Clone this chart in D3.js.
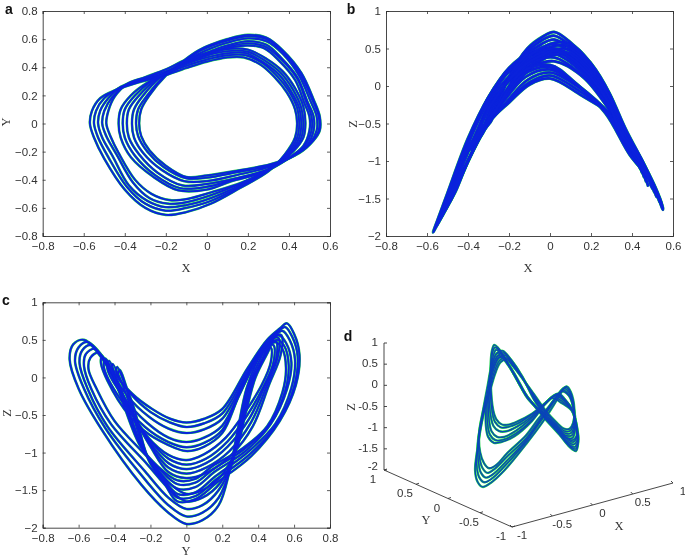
<!DOCTYPE html>
<html>
<head>
<meta charset="utf-8">
<script src="https://cdn.jsdelivr.net/npm/d3@7"></script>
<style>
  html, body { margin: 0; padding: 0; background: #fff; }
  svg { display: block; filter: blur(0.35px); }
  text { font-family: "Liberation Sans", sans-serif; font-size: 11.5px; fill: #333; }
  .letter { font-weight: bold; font-size: 14px; fill: #111; }
  .name { font-family: "Liberation Serif", serif; font-size: 12.5px; fill: #333; }
</style>
</head>
<body>
<svg id="canvas" width="685" height="557"></svg>
<script>
// one attractor trajectory read as closed loops, the four panels are projections of it
let x1a = [-.57,-.56,-.52,-.44,-.34,-.22,-.10,0,.10,.18,.26,.33,.39,.43,.44,.43,.38,.30,.16,.02,-.10,-.20,-.30,-.40,-.50,-.55]
let y1a = [0,.09,.18,.24,.29,.335,.395,.44,.47,.47,.42,.33,.22,.10,0,-.10,-.22,-.34,-.46,-.57,-.63,-.65,-.60,-.47,-.25,-.10]
let z1a = [-1.95,-1.90,-1.70,-1.25,-.65,-.15,.22,.40,.40,.20,-.10,-.45,-.80,-1.02,-1.10,-1.03,-.78,-.35,.22,.50,.44,.24,-.15,-.70,-1.43,-1.80]

let x1b = [-.55,-.54,-.50,-.43,-.33,-.22,-.10,0,.10,.19,.27,.34,.40,.44,.45,.44,.39,.30,.16,.02,-.10,-.20,-.30,-.39,-.48,-.53]
let y1b = [0,.09,.18,.25,.30,.345,.41,.455,.485,.485,.43,.34,.23,.11,0,-.10,-.215,-.33,-.45,-.55,-.60,-.62,-.57,-.45,-.24,-.10]
let z1b = [-1.85,-1.80,-1.60,-1.18,-.62,-.13,.24,.43,.43,.20,-.12,-.50,-.85,-1.08,-1.16,-1.08,-.80,-.35,.20,.47,.40,.22,-.15,-.68,-1.33,-1.70]

let x1c = [-.53,-.52,-.48,-.42,-.32,-.21,-.10,0,.10,.19,.27,.35,.41,.45,.46,.45,.40,.30,.16,.02,-.10,-.20,-.29,-.38,-.46,-.51]
let y1c = [0,.09,.18,.26,.31,.355,.425,.47,.50,.50,.44,.35,.23,.11,0,-.10,-.21,-.325,-.44,-.53,-.58,-.595,-.55,-.44,-.23,-.10]
let z1c = [-1.75,-1.70,-1.50,-1.10,-.58,-.10,.26,.47,.48,.25,-.10,-.55,-.92,-1.14,-1.22,-1.14,-.84,-.36,.17,.43,.36,.19,-.15,-.65,-1.25,-1.60]

let x1d = [-.51,-.50,-.46,-.40,-.31,-.20,-.10,0,.10,.20,.28,.36,.42,.46,.47,.46,.41,.31,.16,.02,-.10,-.19,-.28,-.36,-.44,-.49]
let y1d = [0,.09,.19,.27,.32,.37,.44,.485,.515,.51,.45,.36,.24,.11,0,-.10,-.205,-.32,-.43,-.51,-.56,-.57,-.53,-.42,-.22,-.09]
let z1d = [-1.65,-1.60,-1.40,-1.00,-.52,-.05,.30,.52,.52,.28,-.10,-.60,-.98,-1.20,-1.28,-1.20,-.88,-.40,.13,.38,.31,.15,-.15,-.62,-1.15,-1.50]

let x1e = [-.49,-.48,-.45,-.39,-.30,-.20,-.10,0,.10,.20,.29,.37,.43,.47,.48,.47,.42,.32,.17,.02,-.09,-.18,-.27,-.35,-.43,-.47]
let y1e = [0,.09,.19,.28,.33,.385,.455,.50,.53,.525,.46,.37,.25,.12,0,-.10,-.20,-.315,-.42,-.49,-.535,-.545,-.50,-.40,-.21,-.09]
let z1e = [-1.55,-1.50,-1.32,-.95,-.48,0,.34,.56,.56,.30,-.10,-.65,-1.03,-1.26,-1.34,-1.26,-.92,-.42,.10,.33,.26,.11,-.15,-.58,-1.08,-1.42]

let x2a = [-.33,-.32,-.28,-.20,-.11,-.04,.02,.10,.20,.29,.37,.46,.52,.55,.55,.52,.45,.31,.15,0,-.10,-.20,-.28,-.32]
let y2a = [0,.10,.20,.34,.45,.52,.56,.60,.63,.61,.52,.36,.17,.05,-.05,-.12,-.21,-.29,-.335,-.37,-.38,-.30,-.19,-.09]
let z2a = [-.60,-.55,-.42,.12,.50,.65,.72,.58,.30,-.10,-.58,-1.05,-1.40,-1.62,-1.65,-1.42,-1.10,-.42,-.12,.10,.02,-.22,-.42,-.55]

let x2b = [-.345,-.335,-.29,-.21,-.11,-.04,.02,.10,.20,.29,.37,.455,.515,.545,.545,.515,.44,.31,.15,0,-.10,-.21,-.29,-.335]
let y2b = [0,.10,.20,.335,.44,.51,.55,.59,.62,.60,.51,.35,.165,.05,-.05,-.125,-.215,-.30,-.345,-.385,-.39,-.31,-.20,-.09]
let z2b = [-.66,-.61,-.48,.06,.46,.61,.67,.54,.28,-.12,-.60,-1.03,-1.36,-1.58,-1.60,-1.38,-1.06,-.42,-.08,.14,.05,-.22,-.46,-.60]

let x2c = [-.365,-.355,-.31,-.23,-.12,-.04,.02,.10,.20,.29,.37,.45,.505,.535,.535,.505,.43,.30,.15,0,-.11,-.22,-.31,-.355]
let y2c = [0,.10,.20,.325,.43,.495,.535,.575,.605,.585,.495,.34,.16,.05,-.05,-.135,-.225,-.31,-.365,-.41,-.41,-.33,-.21,-.10]
let z2c = [-.74,-.69,-.55,-.02,.40,.56,.62,.50,.24,-.14,-.62,-1.00,-1.32,-1.53,-1.55,-1.32,-1.02,-.40,-.04,.18,.08,-.24,-.52,-.68]

let x2d = [-.39,-.38,-.33,-.25,-.13,-.05,.02,.10,.20,.29,.36,.44,.49,.52,.52,.49,.41,.29,.14,0,-.12,-.24,-.33,-.38]
let y2d = [0,.10,.20,.31,.41,.475,.515,.555,.585,.56,.47,.33,.155,.05,-.05,-.15,-.235,-.33,-.39,-.43,-.44,-.35,-.22,-.10]
let z2d = [-.86,-.80,-.64,-.12,.32,.50,.56,.46,.20,-.16,-.62,-.98,-1.26,-1.46,-1.48,-1.26,-.98,-.38,0,.22,.12,-.26,-.60,-.80]

let x2e = [-.41,-.40,-.35,-.27,-.14,-.05,.02,.10,.20,.28,.36,.44,.485,.51,.51,.48,.40,.28,.13,0,-.13,-.25,-.35,-.40]
let y2e = [0,.10,.20,.30,.40,.465,.505,.545,.57,.55,.46,.32,.15,.05,-.05,-.15,-.245,-.34,-.40,-.45,-.46,-.37,-.23,-.10]
let z2e = [-.93,-.87,-.70,-.20,.26,.44,.50,.42,.16,-.18,-.64,-.96,-1.22,-1.40,-1.42,-1.22,-.95,-.37,.02,.25,.15,-.28,-.66,-.86]

let x2f = [-.43,-.42,-.37,-.29,-.15,-.05,.02,.10,.20,.28,.35,.43,.475,.50,.50,.47,.39,.27,.12,0,-.14,-.26,-.37,-.42]
let y2f = [0,.10,.20,.29,.39,.455,.495,.535,.555,.535,.45,.31,.145,.05,-.05,-.16,-.255,-.35,-.41,-.47,-.475,-.38,-.24,-.10]
let z2f = [-.98,-.92,-.74,-.26,.22,.40,.47,.38,.12,-.20,-.65,-.95,-1.18,-1.35,-1.37,-1.18,-.92,-.36,.05,.28,.18,-.30,-.70,-.90]

let loops = [
    [x1a, y1a, z1a], [x1b, y1b, z1b], [x1c, y1c, z1c], [x1d, y1d, z1d], [x1e, y1e, z1e],
    [x2a, y2a, z2a], [x2b, y2b, z2b], [x2c, y2c, z2c], [x2d, y2d, z2d], [x2e, y2e, z2e], [x2f, y2f, z2f]
]

let ticksX = [-0.8, -0.6, -0.4, -0.2, 0, 0.2, 0.4, 0.6]
let ticksY = [-0.8, -0.6, -0.4, -0.2, 0, 0.2, 0.4, 0.6, 0.8]
let ticksZ = [-2, -1.5, -1, -0.5, 0, 0.5, 1]
let ticksD = [-1, -0.5, 0, 0.5, 1]

let green = '#1fd24a'
let blue = '#0a22dc'

let canvas = d3.select('#canvas')

let drawLoops = (group, point, greenWidth, blueWidth, blueColor) => {
    let line = d3.line().curve(d3.curveCatmullRomClosed.alpha(0.5))
    let paths = loops.map((loop) => line(loop[0].map((v, i) => point(loop[0][i], loop[1][i], loop[2][i]))))
    paths.forEach((path) => {
        group.append('path').attr('d', path).attr('fill', 'none')
            .attr('stroke', green).attr('stroke-width', greenWidth)
    })
    paths.forEach((path) => {
        group.append('path').attr('d', path).attr('fill', 'none')
            .attr('stroke', blueColor).attr('stroke-width', blueWidth)
    })
}

let drawPanel = (box, pick, xDomain, yDomain, xTicks, yTicks, padding, widths) => {
    let xScale = d3.scaleLinear().domain(xDomain).range([box.left, box.right])
    let yScale = d3.scaleLinear().domain(yDomain).range([box.bottom, box.top])
    let g = canvas.append('g')

    drawLoops(g, (x, y, z) => {
        let p = pick(x, y, z)
        return [xScale(p[0]), yScale(p[1])]
    }, widths[0], widths[1], blue)

    let axes = [
        [d3.axisBottom(xScale).tickValues(xTicks).tickPadding(padding), 0, box.bottom, true],
        [d3.axisTop(xScale).tickValues(xTicks), 0, box.top, false],
        [d3.axisLeft(yScale).tickValues(yTicks).tickPadding(5), box.left, 0, true],
        [d3.axisRight(yScale).tickValues(yTicks), box.right, 0, false]
    ]
    axes.forEach((a) => {
        let axis = g.append('g')
            .attr('transform', 'translate(' + a[1] + ',' + a[2] + ')')
            .call(a[0].tickSize(-3).tickFormat(d3.format('')))
        axis.selectAll('path').attr('stroke', '#333').attr('stroke-width', 0.9)
        axis.selectAll('line').attr('stroke', '#333').attr('stroke-width', 0.8)
        axis.selectAll('text').style('font-size', '11.5px')
        if (!a[3]) axis.selectAll('text').remove()
    })
    return g
}

drawPanel({ left: 42.7, right: 330, top: 11, bottom: 236 }, (x, y, z) => [x, y], [-0.8, 0.6], [-0.8, 0.8], ticksX, ticksY, 6, [2.6, 1.9])
drawPanel({ left: 386, right: 673, top: 11, bottom: 236 }, (x, y, z) => [x, z], [-0.8, 0.6], [-2, 1], ticksX, ticksZ, 6, [3.2, 2.6])
let panelC = drawPanel({ left: 42.7, right: 330, top: 302.3, bottom: 527.7 }, (x, y, z) => [y, z], [-0.8, 0.8], [-2, 1], ticksY, ticksZ, 6, [2.6, 1.9])
panelC.selectAll('text').filter(function () { return d3.select(this).text() == '-2' }).attr('dy', '0.02em')

// panel d, three slanted axes sharing a corner
let xToX = d3.scaleLinear().domain([-1, 1]).range([512, 673])
let xToY = d3.scaleLinear().domain([-1, 1]).range([527, 483])
let yToX = d3.scaleLinear().domain([-1, 1]).range([0, -128])
let yToY = d3.scaleLinear().domain([-1, 1]).range([0, -57])
let zToY = d3.scaleLinear().domain([-2, 1]).range([0, -127])

let project = (x, y, z) => [xToX(x) + yToX(y), xToY(x) + yToY(y) + zToY(z)]

let cube = canvas.append('g')
drawLoops(cube, project, 2.4, 1.3, '#0a45b8')

let drawEdge = (p0, p1) => {
    cube.append('line').attr('x1', p0[0]).attr('y1', p0[1]).attr('x2', p1[0]).attr('y2', p1[1])
        .attr('stroke', '#333').attr('stroke-width', 0.9)
}
drawEdge(project(-1, 1, -2), project(-1, 1, 1))
drawEdge(project(-1, 1, -2), project(-1, -1, -2))
drawEdge(project(-1, -1, -2), project(1, -1, -2))

ticksZ.forEach((t) => {
    let p = project(-1, 1, t)
    drawEdge(p, [p[0] + 3, p[1]])
    cube.append('text').attr('x', p[0] - 6).attr('y', p[1] + (t == -2 ? 0 : 3)).attr('text-anchor', 'end').text(t)
})
ticksD.forEach((t) => {
    let p = project(-1, t, -2)
    drawEdge(p, [p[0] + 3, p[1] - 1])
    cube.append('text').attr('x', p[0] - 11).attr('y', p[1] + 13).attr('text-anchor', 'middle').text(t)
    let q = project(t, -1, -2)
    drawEdge(q, [q[0] - 2, q[1] - 2])
    cube.append('text').attr('x', q[0] + 10).attr('y', q[1] + 12).attr('text-anchor', 'middle').text(t)
})

let labels = [
    ['a', 9, 14, 'letter', 0], ['b', 351, 14, 'letter', 0], ['c', 6, 305, 'letter', 0], ['d', 348, 341, 'letter', 0],
    ['X', 186, 272, 'name', 0], ['Y', 10, 122, 'name', -90],
    ['X', 528, 272, 'name', 0], ['Z', 357, 124, 'name', -90],
    ['Y', 186, 555, 'name', 0], ['Z', 11, 413, 'name', -90],
    ['Z', 355, 407, 'name', -90], ['Y', 426, 524, 'name', 0], ['X', 619, 530, 'name', 0]
]
labels.forEach((l) => {
    canvas.append('text').attr('class', l[3]).attr('text-anchor', 'middle')
        .attr('transform', 'translate(' + l[1] + ',' + l[2] + ') rotate(' + l[4] + ')')
        .text(l[0])
})
</script>
</body>
</html>
